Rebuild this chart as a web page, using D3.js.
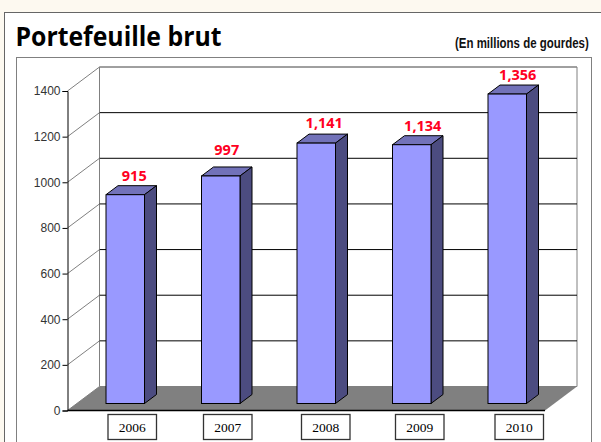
<!DOCTYPE html>
<html>
<head>
<meta charset="utf-8">
<script src="https://cdn.jsdelivr.net/npm/d3@7"></script>
<style>
html, body { margin: 0; padding: 0; background: #fdf9f0; overflow: hidden; }
svg { display: block; }
</style>
</head>
<body>
<div id="graphA"></div>
<script>
var years = ["2006", "2007", "2008", "2009", "2010"];
var portefeuille = [915, 997, 1141, 1134, 1356];
var valueLabels = ["915", "997", "1,141", "1,134", "1,356"];
var yTicks = [0, 200, 400, 600, 800, 1000, 1200, 1400];

var title = "Portefeuille brut";
var unit = "(En millions de gourdes)";

var W = 601, H = 442;
var axisX = 67.5, axisRight = 545, y0 = 410.5, yTop = 91;
var wallDx = 32, wallDy = -24;   // depth of the floor
var barDx = 12, barDy = -9;      // depth of one bar
var barW = 38.5, barShiftX = 10, barShiftY = -7;

// labels and boxes were hand placed in the original chart
var labelDx = [9, 6, 8, 11, 10.5];
var labelDy = [-14, -21, -15, -14, -14];
var boxDx = [0, 0, 2.5, 1, 5];

var x = d3.scaleBand().domain(years).range([axisX, axisRight]);
var y = d3.scaleLinear().domain([0, 1400]).range([y0, yTop]);

var svg = d3.select("#graphA").append("svg")
	.attr("width", W)
	.attr("height", H);

// page frames
svg.append("rect").attr("x", 4.5).attr("y", 12.5).attr("width", 640).attr("height", 480)
	.attr("fill", "#fff").attr("stroke", "#666").attr("stroke-width", 1);
svg.append("rect").attr("x", 16.5).attr("y", 57.5).attr("width", 575).attr("height", 440)
	.attr("fill", "#fff").attr("stroke", "#808080").attr("stroke-width", 1);

svg.append("text").attr("x", 15.5).attr("y", 46)
	.attr("font-family", "'Open Sans', sans-serif").attr("font-weight", 700)
	.attr("font-size", 26.5).attr("fill", "#000")
	.attr("textLength", 206).attr("lengthAdjust", "spacingAndGlyphs")
	.text(title);
// narrow bold face is not installed, squeeze the plain one
svg.append("text")
	.attr("transform", "translate(455,48) scale(0.765,1)")
	.attr("font-family", "'Liberation Sans', sans-serif").attr("font-weight", 700)
	.attr("font-size", 15).attr("fill", "#111")
	.text(unit);

// back wall + floor
var backL = axisX + wallDx, backR = axisRight + wallDx;
svg.append("path")
	.attr("d", "M" + backL + "," + (y(1400) + wallDy) + "H" + backR + "V" + (y0 + wallDy) + "H" + backL + "Z")
	.attr("fill", "#fff").attr("stroke", "#808080");

svg.append("path")
	.attr("d", "M" + axisX + "," + y0 + "L" + backL + "," + (y0 + wallDy) + "H" + backR + "L" + axisRight + "," + y0 + "Z")
	.attr("fill", "#808080");

// grid on the back wall and slanted lines on the side wall
svg.selectAll(".grid").data(yTicks.slice(1)).enter().append("line")
	.attr("class", "grid")
	.attr("x1", backL).attr("x2", backR)
	.attr("y1", function(d) { return y(d) + wallDy; })
	.attr("y2", function(d) { return y(d) + wallDy; })
	.attr("stroke", function(d) { return d == 1400 ? "#808080" : "#000"; });

svg.selectAll(".side").data(yTicks).enter().append("line")
	.attr("class", "side")
	.attr("x1", axisX).attr("x2", backL)
	.attr("y1", function(d) { return y(d); })
	.attr("y2", function(d) { return y(d) + wallDy; })
	.attr("stroke", "#808080");

// bars
var bars = svg.selectAll(".bar").data(portefeuille).enter().append("g").attr("class", "bar");
function left(d, i) { return x(years[i]) + x.bandwidth() / 2 - barW / 2 + barShiftX; }
function barTop(d) { return y(d) + barShiftY; }

bars.append("path")
	.attr("d", function(d, i) {
		var a = left(d, i), t = barTop(d);
		return "M" + a + "," + t + "l" + barDx + "," + barDy + "h" + barW + "l" + (-barDx) + "," + (-barDy) + "Z";
	})
	.attr("fill", "#7272b9").attr("stroke", "#000");

bars.append("path")
	.attr("d", function(d, i) {
		var a = left(d, i) + barW, t = barTop(d), b = y(0) + barShiftY;
		return "M" + a + "," + t + "l" + barDx + "," + barDy + "V" + (b + barDy) + "L" + a + "," + b + "Z";
	})
	.attr("fill", "#4c4c80").attr("stroke", "#000");

bars.append("rect")
	.attr("x", left)
	.attr("y", barTop)
	.attr("width", barW)
	.attr("height", function(d) { return y(0) - y(d); })
	.attr("fill", "#9999ff").attr("stroke", "#000");

bars.append("text")
	.attr("x", function(d, i) { return left(d, i) + barW / 2 + labelDx[i]; })
	.attr("y", function(d, i) { return barTop(d) + labelDy[i]; })
	.attr("text-anchor", "middle")
	.attr("font-family", "'Noto Sans', sans-serif").attr("font-weight", 700)
	.attr("font-size", 14.5).attr("fill", "#ff0022")
	.text(function(d, i) { return valueLabels[i]; });

// y axis
var yAxis = d3.axisLeft(y).tickValues(yTicks).tickSize(5).tickPadding(2).tickFormat(d3.format("d"));
var gy = svg.append("g")
	.attr("transform", "translate(" + axisX + ",0)")
	.call(yAxis);
gy.selectAll("text").attr("font-family", "'Liberation Sans', sans-serif").attr("font-size", 12).attr("fill", "#333");
gy.selectAll("line").attr("stroke", "#000");
gy.select(".domain").attr("stroke", "#000");

svg.append("line")
	.attr("x1", axisX).attr("x2", axisRight).attr("y1", y0).attr("y2", y0)
	.attr("stroke", "#000").attr("stroke-width", 1.5);

// category boxes
var boxW = 48.5, boxH = 25;
var cats = svg.selectAll(".cat").data(years).enter().append("g").attr("class", "cat")
	.attr("transform", function(d, i) {
		return "translate(" + (x(d) + x.bandwidth() / 2 + 17 + boxDx[i]) + ",0)";
	});
cats.append("rect")
	.attr("x", -boxW / 2).attr("y", 414.5)
	.attr("width", boxW).attr("height", boxH)
	.attr("fill", "#fff").attr("stroke", "#333").attr("stroke-width", 1.3);
cats.append("text")
	.attr("y", 432).attr("text-anchor", "middle")
	.attr("font-family", "'Liberation Serif', serif").attr("font-size", 13.5).attr("fill", "#000")
	.text(function(d) { return d; });
</script>
</body>
</html>
